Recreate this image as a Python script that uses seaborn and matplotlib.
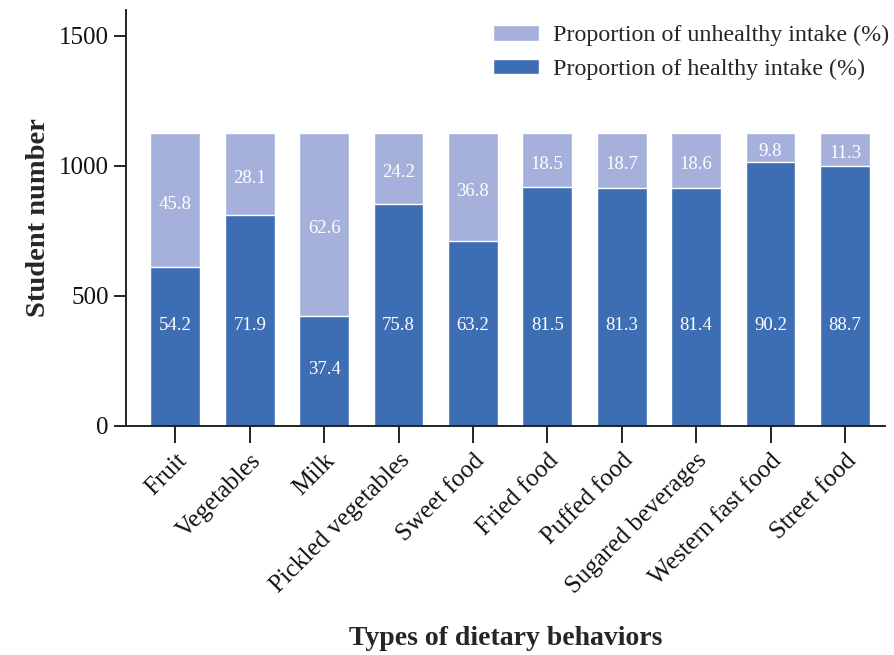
import numpy as np
import pandas as pd
import matplotlib.pyplot as plt
import seaborn as sns
from matplotlib.patches import Patch

categories = ['Fruit', 'Vegetables', 'Milk', 'Pickled vegetables', 'Sweet food',
              'Fried food', 'Puffed food', 'Sugared beverages', 'Western fast food', 'Street food']
healthy_pct = [54.2, 71.9, 37.4, 75.8, 63.2, 81.5, 81.3, 81.4, 90.2, 88.7]
unhealthy_pct = [45.8, 28.1, 62.6, 24.2, 36.8, 18.5, 18.7, 18.6, 9.8, 11.3]
total_students = 1125

df = pd.DataFrame({'category': categories,
                   'healthy': healthy_pct,
                   'unhealthy': unhealthy_pct})
df['healthy_n'] = df['healthy'] / 100 * total_students
df['total_n'] = total_students

sns.set_style('ticks')
plt.rcParams['font.family'] = ['Liberation Serif', 'DejaVu Serif']

dark = '#3d6db3'
light = '#a5b1da'

fig = plt.figure(figsize=(8.95, 6.55), dpi=100)
ax = fig.add_axes([0.141, 0.35, 0.848, 0.635])

sns.barplot(data=df, x='category', y='total_n', color=light, width=0.67,
            saturation=1, ax=ax)
sns.barplot(data=df, x='category', y='healthy_n', color=dark, width=0.67,
            saturation=1, ax=ax)

# percentage labels: healthy ones on a common line (lower if the bar is short),
# unhealthy ones in the middle of the upper segment
common_y = 0.35 * total_students
for i, row in df.iterrows():
    if row['healthy_n'] - common_y > 100:
        y_h = common_y
    else:
        y_h = row['healthy_n'] / 2 + 15
    ax.text(i, y_h, f"{row['healthy']:.1f}", ha='center', va='center_baseline',
            color='white', fontsize=13.5)
    y_u = (row['healthy_n'] + total_students) / 2 - 8
    ax.text(i, y_u, f"{row['unhealthy']:.1f}",
            ha='center', va='center_baseline', color='white', fontsize=13.5)

ax.set_ylim(0, 1600)
ax.set_xlim(-0.66, 9.54)
ax.set_yticks([0, 500, 1000, 1500])
ax.tick_params(axis='both', labelsize=18, length=9, width=1.4, color='#222222',
               labelcolor='#111111')
ax.set_xticks(range(len(categories)))
ax.set_xticklabels(categories, rotation=45, ha='right', rotation_mode='anchor')
ax.tick_params(axis='x', length=12, pad=5)
for s in ['top', 'right']:
    ax.spines[s].set_visible(False)
for s in ['left', 'bottom']:
    ax.spines[s].set_linewidth(1.4)
    ax.spines[s].set_color('#222222')

ax.set_ylabel('Student number', fontsize=20.5, fontweight='bold', labelpad=6)
ax.set_xlabel('Types of dietary behaviors', fontsize=20, fontweight='bold', labelpad=20)

handles = [Patch(facecolor=light, label='Proportion of unhealthy intake (%)'),
           Patch(facecolor=dark, label='Proportion of healthy intake (%)')]
ax.legend(handles=handles, loc='upper right', bbox_to_anchor=(1.034, 1.015), frameon=False,
          fontsize=17.3, handlelength=1.9, handleheight=0.6, handletextpad=0.6,
          labelspacing=0.5)

fig.savefig('out.png', dpi=100)
